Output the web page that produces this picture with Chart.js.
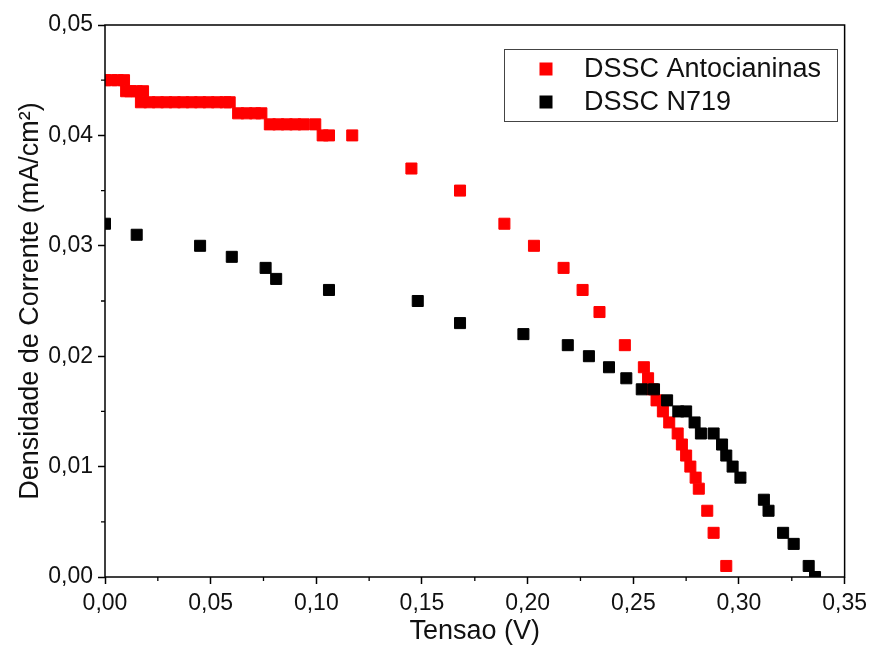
<!DOCTYPE html>
<html>
<head>
<meta charset="utf-8">
<script src="https://cdn.jsdelivr.net/npm/chart.js@4/dist/chart.umd.min.js"></script>
<style>
html,body{margin:0;padding:0;background:#fff;}
#wrap{width:873px;height:648px;position:relative;}
</style>
</head>
<body>
<div id="wrap"><canvas id="c" width="873" height="648"></canvas></div>
<script>
// ---- data ----
const seriesNames = ["DSSC Antocianinas", "DSSC N719"];
const redX = [0.000,0.003,0.006,0.009, 0.010,0.012,0.015,0.018,
  0.017,0.021,0.025,0.029,0.033,0.037,0.041,0.045,0.049,0.053,0.057,0.059,
  0.063,0.067,0.071,0.074, 0.078,0.082,0.086,0.090,0.094,0.0995,
  0.103,0.106,0.117,
  0.145,0.168,0.189,0.203,0.217,0.226,0.234,0.246,0.255,0.257,0.259,0.261,0.264,0.267,
  0.271,0.273,0.275,0.277,0.2795,0.281,0.285,0.288,0.294];
const redY = [0.045,0.045,0.045,0.045, 0.044,0.044,0.044,0.044,
  0.043,0.043,0.043,0.043,0.043,0.043,0.043,0.043,0.043,0.043,0.043,0.043,
  0.042,0.042,0.042,0.042, 0.041,0.041,0.041,0.041,0.041,0.041,
  0.040,0.040,0.040,
  0.037,0.035,0.032,0.030,0.028,0.026,0.024,0.021,0.019,0.018,0.017,0.016,0.015,0.014,
  0.013,0.012,0.011,0.010,0.009,0.008,0.006,0.004,0.001];
const blackX = [0.000,0.015,0.045,0.060,0.076,0.081,0.106,0.148,0.168,0.198,0.219,0.229,
  0.2385,0.2467,0.254,0.2598,0.266,0.2713,0.275,0.279,0.282,0.288,0.292,0.294,0.297,0.3007,
  0.3118,0.314,0.3209,0.3259,0.333,0.336];
const blackY = [0.032,0.031,0.030,0.029,0.028,0.027,0.026,0.025,0.023,0.022,0.021,0.020,
  0.019,0.018,0.017,0.017,0.016,0.015,0.015,0.014,0.013,0.013,0.012,0.011,0.010,0.009,
  0.007,0.006,0.004,0.003,0.001,0.000];
const xTicks = [0,0.05,0.10,0.15,0.20,0.25,0.30,0.35];
const yTicks = [0,0.01,0.02,0.03,0.04,0.05];
const xMinor = [0.025,0.075,0.125,0.175,0.225,0.275,0.325];
const yMinor = [0.005,0.015,0.025,0.035,0.045];
const xTitle = "Tensao (V)";
const yTitle = "Densidade de Corrente (mA/cm\u00B2)";

const toPts = (xs, ys) => xs.map((x, i) => ({x: x, y: ys[i]}));
const fmt = v => v.toFixed(2).replace('.', ',');
const FONT = "'Liberation Sans', Arial, sans-serif";

const framePlugin = {
  id: 'frame',
  afterDraw(chart) {
    const {ctx, chartArea: a, scales} = chart;
    ctx.save();
    ctx.strokeStyle = '#000';
    ctx.lineWidth = 1.5;
    ctx.strokeRect(a.left, a.top, a.right - a.left, a.bottom - a.top);
    // minor ticks
    ctx.lineWidth = 1.3;
    ctx.beginPath();
    xMinor.forEach(v => {
      const px = scales.x.getPixelForValue(v);
      ctx.moveTo(px, a.bottom); ctx.lineTo(px, a.bottom + 4);
    });
    yMinor.forEach(v => {
      const py = scales.y.getPixelForValue(v);
      ctx.moveTo(a.left, py); ctx.lineTo(a.left - 4, py);
    });
    ctx.stroke();
    // legend box
    const L = 504, T = 49, R = 837, B = 121;
    ctx.fillStyle = '#fff';
    ctx.fillRect(L, T, R - L, B - T);
    ctx.strokeStyle = '#444';
    ctx.lineWidth = 1;
    ctx.strokeRect(L + 0.5, T + 0.5, R - L, B - T);
    const rows = [69, 102];
    chart.data.datasets.forEach((ds, i) => {
      ctx.fillStyle = ds.backgroundColor;
      ctx.fillRect(546 - 6.5, rows[i] - 6.5, 13, 13);
      ctx.fillStyle = '#111';
      ctx.font = '27px ' + FONT;
      ctx.textBaseline = 'middle';
      ctx.textAlign = 'left';
      ctx.fillText(ds.label, 584, rows[i] + 1);
    });
    ctx.restore();
  }
};

new Chart(document.getElementById('c'), {
  type: 'scatter',
  data: {
    datasets: [
      {label: seriesNames[0], data: toPts(redX, redY), backgroundColor: '#ff0000', borderColor: '#ff0000',
       pointStyle: 'rect', pointRadius: 7.8, borderWidth: 1, order: 1},
      {label: seriesNames[1], data: toPts(blackX, blackY), backgroundColor: '#000000', borderColor: '#000000',
       pointStyle: 'rect', pointRadius: 7.8, borderWidth: 1, order: 0}
    ]
  },
  options: {
    responsive: false,
    animation: false,
    layout: {padding: {top: 25, right: 27, left: 0, bottom: 0}},
    plugins: {legend: {display: false}, tooltip: {enabled: false}},
    scales: {
      x: {
        type: 'linear', min: 0, max: 0.35,
        afterFit(s) { s.height = 71; },
        afterBuildTicks(s) { s.ticks = xTicks.map(v => ({value: v})); },
        ticks: {callback: v => fmt(v), color: '#111', font: {family: FONT, size: 23}, padding: 6, maxRotation: 0},
        grid: {display: true, drawOnChartArea: false, tickLength: 7, tickColor: '#000', tickWidth: 1.5},
        border: {display: false},
        title: {display: true, text: xTitle, color: '#111', font: {family: FONT, size: 27}, padding: {top: 0, bottom: 0}}
      },
      y: {
        type: 'linear', min: 0, max: 0.05,
        afterFit(s) { s.width = 105; },
        afterBuildTicks(s) { s.ticks = yTicks.map(v => ({value: v})); },
        ticks: {callback: v => fmt(v), color: '#111', font: {family: FONT, size: 23}, padding: 5},
        grid: {display: true, drawOnChartArea: false, tickLength: 7, tickColor: '#000', tickWidth: 1.5},
        border: {display: false},
        title: {display: true, text: yTitle, color: '#111', font: {family: FONT, size: 27}, padding: {top: 14, bottom: 0}}
      }
    }
  },
  plugins: [framePlugin]
});
</script>
</body>
</html>
